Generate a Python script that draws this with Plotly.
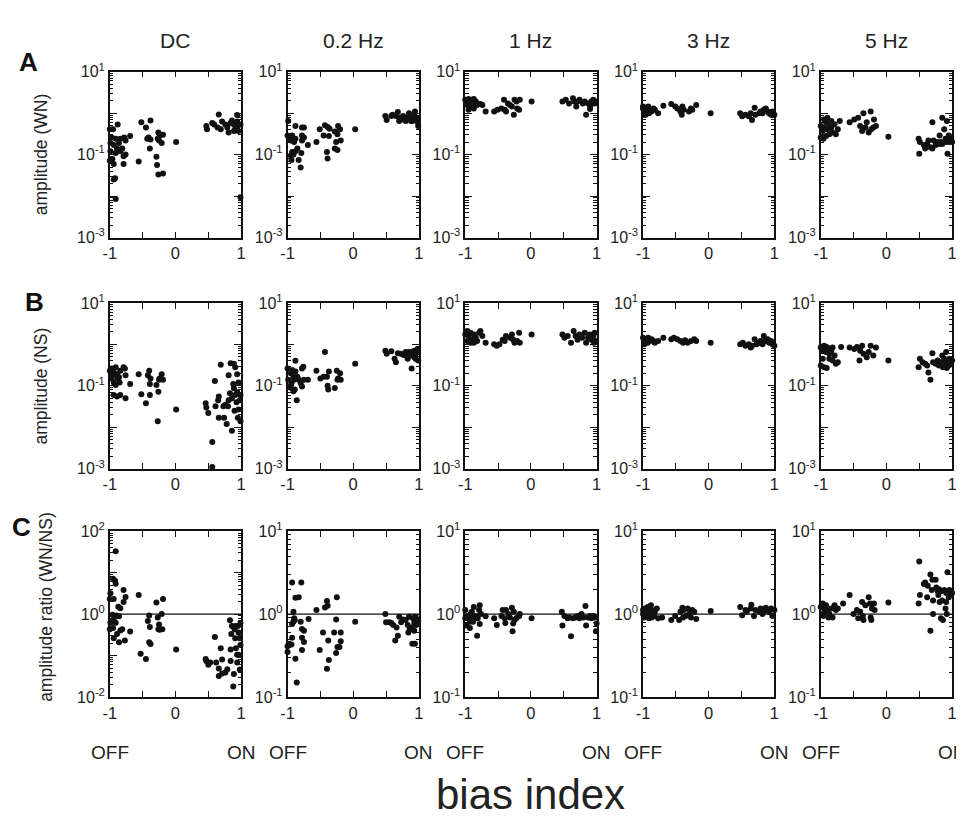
import plotly.graph_objects as go

# ---------------- data ----------------
column_titles = ["DC", "0.2 Hz", "1 Hz", "3 Hz", "5 Hz"]
row_letters = ["A", "B", "C"]
row_titles = ["amplitude (WN)", "amplitude (NS)", "amplitude ratio (WN/NS)"]
x_tick_vals = [-1, -0.5, 0, 0.5, 1]
x_tick_text = ["-1", "", "0", "", "1"]
end_labels = ["OFF", "ON"]
x_axis_title = "bias index"
ratio_reference = 1.0

# Row A: amplitude (WN)
a_dc_x = [-1.0, -0.95, -0.88, -0.97, -0.91, -0.84, -0.78, -0.69, -0.76, -0.94, -0.89, -0.86, -0.81, -0.99, -0.91, -0.84, -0.96, -1.0, -0.94, -0.79, -0.76, -0.79, -0.92, -0.94, -0.91, -0.99, -0.86,
          -0.52, -0.38, -0.45, -0.56, -0.41, -0.43, -0.38, -0.39, -0.26, -0.24, -0.27, -0.25, -0.19, -0.21, -0.29, -0.28, -0.26, -0.19,
          0.01,
          0.47, 0.48, 0.56, 0.59, 0.66, 0.64, 0.69, 0.71, 0.76, 0.79, 0.84, 0.86, 0.89, 0.94, 0.91, 0.96, 0.99, 0.81, 0.89, 0.94, 0.99, 0.94]
a_dc_y = [0.41, 0.41, 0.53, 0.26, 0.24, 0.24, 0.26, 0.28, 0.22, 0.17, 0.14, 0.13, 0.14, 0.12, 0.11, 0.12, 0.078, 0.071, 0.059, 0.091, 0.10, 0.059, 0.027, 0.025, 0.0085, 0.19, 0.19,
          0.60, 0.66, 0.45, 0.068, 0.26, 0.24, 0.23, 0.14, 0.34, 0.29, 0.24, 0.22, 0.30, 0.19, 0.089, 0.056, 0.033, 0.035,
          0.20,
          0.49, 0.41, 0.58, 0.53, 0.93, 0.45, 0.41, 0.63, 0.53, 0.45, 0.58, 0.66, 0.53, 0.90, 0.41, 0.37, 0.53, 0.34, 0.37, 0.63, 0.0093, 0.45]

a_02_x = [-0.99, -1.0, -0.98, -0.93, -0.88, -0.88, -0.95, -0.9, -0.78, -0.75, -0.78, -0.75, -0.78, -0.69, -0.93, -0.88, -0.95, -0.91, -0.94, -0.83, -0.79, -0.8, -0.85,
          -0.56, -0.51, -0.43, -0.39, -0.36, -0.45, -0.37, -0.40, -0.39, -0.28, -0.23, -0.20, -0.24, -0.26, -0.28, -0.24, -0.19,
          0.03,
          0.49, 0.51, 0.58, 0.60, 0.65, 0.68, 0.70, 0.73, 0.76, 0.80, 0.83, 0.85, 0.88, 0.90, 0.93, 0.94, 0.96, 0.98, 0.99, 0.93, 0.88, 0.70]
a_02_y = [0.65, 0.29, 0.26, 0.29, 0.49, 0.24, 0.22, 0.20, 0.45, 0.45, 0.29, 0.26, 0.22, 0.17, 0.115, 0.12, 0.095, 0.10, 0.074, 0.074, 0.11, 0.049, 0.14,
          0.20, 0.41, 0.51, 0.46, 0.42, 0.29, 0.28, 0.115, 0.081, 0.36, 0.49, 0.41, 0.31, 0.20, 0.14, 0.13, 0.22,
          0.41,
          0.85, 0.68, 0.85, 0.92, 0.85, 1.07, 0.77, 0.70, 0.85, 0.65, 0.77, 1.0, 0.77, 0.65, 0.92, 1.1, 0.77, 0.61, 0.49, 0.68, 0.65, 0.65]

a_1_x = [-1.0, -0.97, -0.95, -0.92, -0.9, -0.87, -0.84, -0.82, -0.77, -0.98, -0.93, -0.9, -0.95, -0.87, -0.82, -0.74, -0.69,
         -0.56, -0.51, -0.45, -0.41, -0.40, -0.38, -0.35, -0.32, -0.29, -0.26, -0.22, -0.21, -0.18, -0.17, -0.25,
         0.01,
         0.48, 0.53, 0.58, 0.64, 0.66, 0.69, 0.71, 0.74, 0.79, 0.82, 0.84, 0.87, 0.90, 0.92, 0.95, 0.97, 0.99, 0.90]
a_1_y = [2.1, 1.9, 2.2, 1.9, 2.1, 2.2, 1.9, 1.7, 1.65, 1.6, 1.45, 1.5, 1.2, 1.3, 1.58, 1.58, 1.1,
         1.1, 1.2, 1.3, 2.1, 1.2, 1.1, 1.7, 1.58, 1.45, 0.92, 1.9, 1.3, 1.2, 2.1, 2.1,
         1.9,
         1.9, 2.1, 1.7, 2.3, 1.9, 1.45, 1.9, 2.1, 1.7, 1.9, 0.92, 1.7, 1.45, 1.9, 2.1, 1.7, 1.9, 1.25]

a_3_x = [-1.0, -1.0, -0.98, -0.97, -0.95, -0.92, -0.91, -0.9, -0.87, -0.84, -0.82, -0.77, -0.96, -0.69,
         -0.57, -0.51, -0.48, -0.41, -0.40, -0.38, -0.30, -0.27, -0.25, -0.19, -0.43,
         0.03,
         0.48, 0.51, 0.56, 0.61, 0.64, 0.66, 0.70, 0.71, 0.77, 0.79, 0.84, 0.87, 0.90, 0.92, 0.95, 0.97, 1.0, 0.82]
a_3_y = [1.3, 1.45, 1.1, 1.2, 1.3, 1.45, 1.0, 1.2, 1.1, 1.3, 1.2, 1.0, 0.92, 1.5,
         1.65, 1.45, 1.3, 0.92, 1.45, 1.2, 1.1, 1.3, 1.2, 1.58, 1.1,
         1.0,
         1.0, 0.84, 0.92, 0.84, 1.0, 0.68, 1.35, 0.92, 1.0, 1.1, 1.2, 1.3, 1.1, 1.0, 0.92, 1.1, 0.92, 1.0]

a_5_x = [-1.0, -0.97, -0.95, -0.92, -0.9, -0.87, -0.84, -1.0, -0.96, -0.92, -0.87, -0.82, -0.77, -0.74, -0.9, -0.79, -0.71, -0.84, -0.95,
         -0.56, -0.49, -0.43, -0.35, -0.40, -0.37, -0.32, -0.27, -0.24, -0.23, -0.19, -0.16, -0.30, -0.20,
         0.03,
         0.49, 0.51, 0.50, 0.57, 0.59, 0.62, 0.64, 0.67, 0.70, 0.70, 0.72, 0.75, 0.78, 0.80, 0.81, 0.83, 0.85, 0.88, 0.90, 0.91, 0.92, 0.93, 0.95, 0.96, 0.98, 1.0, 0.85]
a_5_y = [0.49, 0.37, 0.70, 0.60, 0.77, 0.49, 0.65, 0.26, 0.24, 0.28, 0.31, 0.34, 0.31, 0.41, 0.41, 0.54, 0.65, 0.45, 0.45,
         0.60, 0.70, 0.77, 1.0, 0.49, 0.37, 0.45, 0.34, 1.1, 0.41, 0.70, 0.49, 0.60, 0.45,
         0.27,
         0.24, 0.20, 0.105, 0.17, 0.14, 0.18, 0.22, 0.15, 0.14, 0.60, 0.22, 0.17, 0.20, 0.18, 0.29, 0.20, 0.77, 0.41, 0.24, 0.20, 0.65, 0.105, 0.29, 0.20, 0.24, 0.20, 0.18]

# Row B: amplitude (NS)
b_dc_x = [-1.0, -0.97, -0.96, -0.94, -0.91, -0.89, -0.86, -0.84, -0.88, -0.94, -0.91, -0.79, -0.77, -0.76, -0.69, -0.94, -0.89, -0.84, -0.76, -0.97, -0.85,
          -0.56, -0.52, -0.45, -0.42, -0.40, -0.38, -0.39, -0.39, -0.29, -0.27, -0.26, -0.25, -0.21, -0.19, -0.24,
          0.01,
          0.46, 0.47, 0.50, 0.56, 0.56, 0.60, 0.61, 0.65, 0.66, 0.66, 0.69, 0.73, 0.74, 0.76, 0.78, 0.80, 0.81, 0.83, 0.84, 0.86, 0.86, 0.89, 0.89, 0.90, 0.91, 0.91, 0.93, 0.94, 0.94, 0.95, 0.96, 0.98, 0.99, 0.96, 0.99, 0.81, 0.88]
b_dc_y = [0.23, 0.26, 0.18, 0.21, 0.28, 0.19, 0.16, 0.23, 0.15, 0.12, 0.105, 0.28, 0.26, 0.18, 0.11, 0.06, 0.055, 0.06, 0.05, 0.15, 0.12,
          0.19, 0.063, 0.038, 0.18, 0.23, 0.15, 0.11, 0.06, 0.105, 0.014, 0.072, 0.14, 0.19, 0.14, 0.15,
          0.027,
          0.038, 0.030, 0.022, 0.0044, 0.0011, 0.13, 0.032, 0.045, 0.055, 0.017, 0.32, 0.032, 0.017, 0.035, 0.012, 0.032, 0.045, 0.066, 0.35, 0.0083, 0.05, 0.34, 0.087, 0.025, 0.28, 0.06, 0.04, 0.07, 0.19, 0.017, 0.027, 0.045, 0.014, 0.12, 0.06, 0.18, 0.11]

b_02_x = [-1.0, -0.99, -0.98, -0.95, -0.94, -0.93, -0.91, -0.9, -0.89, -0.88, -0.88, -0.86, -0.85, -0.83, -0.8, -0.78, -0.76, -0.78, -0.75, -0.69, -0.95, -0.91,
          -0.56, -0.5, -0.45, -0.43, -0.4, -0.39, -0.37, -0.38, -0.28, -0.25, -0.23, -0.2, -0.19, -0.24,
          0.03,
          0.49, 0.51, 0.58, 0.63, 0.65, 0.68, 0.73, 0.76, 0.8, 0.83, 0.85, 0.88, 0.89, 0.9, 0.93, 0.94, 0.95, 0.96, 0.98, 0.99, 0.93, 0.8]
b_02_y = [0.26, 0.14, 0.096, 0.20, 0.115, 0.24, 0.166, 0.14, 0.081, 0.40, 0.22, 0.045, 0.166, 0.14, 0.115, 0.26, 0.29, 0.096, 0.14, 0.14, 0.09, 0.074,
          0.23, 0.15, 0.166, 0.65, 0.166, 0.10, 0.22, 0.081, 0.088, 0.23, 0.15, 0.20, 0.14, 0.14,
          0.34,
          0.70, 0.59, 0.68, 0.45, 0.37, 0.61, 0.59, 0.56, 0.54, 0.45, 0.65, 0.54, 0.26, 0.65, 0.70, 0.54, 0.45, 0.61, 0.77, 0.41, 0.49, 0.65]

b_1_x = [-1.0, -0.97, -0.95, -0.92, -0.9, -0.87, -0.84, -0.82, -0.79, -0.77, -0.74, -0.97, -0.92, -0.87, -0.69,
         -0.56, -0.52, -0.48, -0.43, -0.40, -0.38, -0.32, -0.29, -0.27, -0.25, -0.21, -0.18, -0.17,
         0.01,
         0.48, 0.51, 0.56, 0.61, 0.65, 0.68, 0.71, 0.74, 0.78, 0.82, 0.84, 0.87, 0.90, 0.92, 0.95, 0.97, 0.99, 0.96]
b_1_y = [1.74, 2.1, 1.6, 1.9, 1.3, 1.74, 1.45, 1.2, 1.9, 2.1, 1.6, 1.2, 1.1, 1.1, 1.1,
         1.0, 0.92, 1.0, 1.3, 1.2, 1.6, 1.45, 1.74, 1.3, 1.1, 1.2, 1.9, 1.1,
         1.74,
         1.74, 1.45, 1.6, 1.1, 2.1, 1.6, 1.3, 1.74, 1.45, 1.9, 1.1, 1.45, 1.74, 1.3, 1.6, 1.9, 1.2, 1.1]

b_3_x = [-1.0, -0.97, -0.95, -0.92, -0.9, -0.87, -0.84, -0.82, -0.77, -0.69, -0.98, -0.93,
         -0.57, -0.53, -0.48, -0.43, -0.39, -0.36, -0.32, -0.27, -0.22, -0.19,
         0.03,
         0.48, 0.52, 0.56, 0.61, 0.64, 0.66, 0.70, 0.73, 0.77, 0.79, 0.84, 0.87, 0.90, 0.92, 0.95, 0.97, 1.0, 0.82]
b_3_y = [1.45, 1.2, 1.32, 1.45, 1.2, 1.32, 1.2, 1.1, 1.2, 1.45, 1.0, 1.1,
         1.32, 1.45, 1.32, 1.2, 1.1, 1.25, 1.1, 1.2, 1.32, 1.2,
         1.1,
         1.0, 1.1, 0.92, 1.0, 0.84, 0.92, 1.32, 1.0, 1.1, 1.2, 1.58, 1.2, 1.32, 1.1, 1.2, 1.0, 0.92, 1.0]

b_5_x = [-1.0, -0.97, -0.95, -0.92, -0.9, -0.87, -0.84, -1.0, -0.95, -0.91, -0.87, -0.82, -0.79, -0.77, -0.74, -0.97, -0.82, -0.69,
         -0.56, -0.49, -0.45, -0.40, -0.41, -0.37, -0.35, -0.30, -0.27, -0.24, -0.20, -0.16,
         0.03,
         0.49, 0.51, 0.55, 0.59, 0.62, 0.64, 0.67, 0.70, 0.71, 0.75, 0.78, 0.80, 0.83, 0.85, 0.86, 0.88, 0.90, 0.91, 0.93, 0.95, 0.96, 0.98, 1.0, 0.92]
b_5_y = [0.84, 0.70, 0.92, 0.65, 0.84, 0.59, 0.70, 0.31, 0.28, 0.27, 0.45, 0.41, 0.54, 0.34, 0.37, 0.45, 0.84, 0.86,
         0.84, 0.77, 0.86, 0.70, 0.41, 0.92, 0.59, 0.49, 0.65, 0.92, 0.54, 0.84,
         0.41,
         0.28, 0.45, 0.37, 0.34, 0.31, 0.21, 0.14, 0.61, 0.37, 0.34, 0.41, 0.31, 0.37, 0.54, 0.28, 0.45, 0.34, 0.65, 0.37, 0.31, 0.45, 0.34, 0.41, 0.27]

# Row C: amplitude ratio (WN/NS)
c_dc_x = [-0.91, -0.95, -0.92, -0.91, -0.99, -1.0, -0.94, -0.79, -0.76, -0.79, -0.87, -0.84, -0.96, -0.9, -0.86, -0.94, -0.97, -0.91, -0.95, -1.0, -0.81, -0.84, -0.89, -0.94, -0.86, -0.77, -0.69, -0.99,
          -0.56, -0.53, -0.45, -0.42, -0.40, -0.39, -0.38, -0.40, -0.29, -0.27, -0.26, -0.25, -0.21, -0.20, -0.19, -0.24,
          0.01,
          0.46, 0.47, 0.50, 0.53, 0.60, 0.62, 0.66, 0.66, 0.69, 0.71, 0.71, 0.76, 0.79, 0.83, 0.84, 0.84, 0.85, 0.86, 0.88, 0.89, 0.90, 0.91, 0.91, 0.92, 0.94, 0.94, 0.95, 0.96, 0.98, 0.98, 0.99, 0.99, 0.96]
c_dc_y = [33, 7.1, 6.4, 5.4, 3.2, 2.3, 2.3, 3.8, 2.6, 1.96, 1.5, 1.38, 0.97, 0.92, 0.89, 0.74, 0.68, 0.62, 0.46, 0.43, 0.43, 0.40, 0.33, 0.26, 0.21, 0.23, 0.38, 0.62,
          2.9, 0.11, 0.083, 0.68, 0.92, 0.49, 0.19, 0.21, 1.9, 0.83, 0.43, 0.56, 1.0, 0.43, 2.3, 0.42,
          0.14,
          0.083, 0.074, 0.06, 0.068, 0.28, 0.068, 0.049, 0.032, 0.15, 0.08, 0.037, 0.039, 0.047, 0.71, 0.074, 0.14, 0.33, 0.52, 0.018, 0.036, 0.43, 0.52, 0.26, 0.15, 0.104, 0.068, 0.52, 0.104, 0.046, 0.26, 0.61, 0.18, 0.36]

c_02_x = [-1.0, -1.0, -0.98, -0.94, -0.93, -0.93, -0.91, -0.9, -0.91, -0.89, -0.93, -0.88, -0.88, -0.86, -0.83, -0.79, -0.8, -0.78, -0.75, -0.78, -0.75, -0.78, -0.68,
          -0.56, -0.51, -0.46, -0.43, -0.40, -0.39, -0.38, -0.40, -0.37, -0.29, -0.26, -0.25, -0.26, -0.24, -0.21, -0.19, -0.19,
          0.03,
          0.49, 0.50, 0.55, 0.58, 0.61, 0.64, 0.68, 0.66, 0.70, 0.73, 0.76, 0.80, 0.83, 0.84, 0.85, 0.86, 0.89, 0.90, 0.91, 0.93, 0.94, 0.95, 0.96, 0.98, 0.99, 0.93]
c_02_y = [0.35, 0.41, 0.44, 0.43, 0.52, 2.4, 1.07, 0.89, 0.81, 0.85, 0.76, 1.58, 0.29, 0.15, 1.6, 2.4, 0.81, 0.66, 0.63, 0.52, 0.46, 0.37, 0.87,
          1.12, 0.37, 0.60, 1.2, 1.44, 1.26, 0.48, 0.22, 0.28, 0.6, 0.86, 1.6, 0.34, 0.40, 0.40, 0.6, 0.47,
          0.81,
          1.0, 0.80, 0.8, 0.78, 0.74, 0.48, 0.55, 0.69, 0.93, 0.8, 0.86, 0.85, 0.74, 0.6, 0.93, 0.65, 0.69, 0.44, 0.89, 0.78, 0.44, 0.93, 0.74, 0.85, 0.83, 0.63]

c_1_x = [-1.0, -1.0, -0.97, -0.98, -0.95, -0.93, -0.92, -0.91, -0.9, -0.88, -0.87, -0.87, -0.84, -0.82, -0.81, -0.79, -0.78, -0.78, -0.76, -0.69, -0.93,
         -0.56, -0.52, -0.45, -0.43, -0.40, -0.39, -0.38, -0.34, -0.32, -0.29, -0.28, -0.26, -0.25, -0.22, -0.18, -0.17, -0.27,
         0.01,
         0.47, 0.48, 0.51, 0.56, 0.58, 0.61, 0.64, 0.68, 0.71, 0.74, 0.77, 0.80, 0.83, 0.84, 0.87, 0.90, 0.92, 0.95, 0.97, 0.99, 1.0]
c_1_y = [1.12, 0.89, 0.95, 0.73, 0.91, 0.68, 1.0, 0.85, 1.07, 0.81, 1.22, 0.91, 0.95, 0.55, 0.89, 1.12, 1.28, 0.76, 1.0, 0.94, 0.81,
         0.89, 0.74, 0.95, 1.12, 0.89, 0.78, 1.12, 1.0, 0.91, 1.19, 0.62, 1.07, 0.85, 0.9, 0.95, 1.0, 0.77,
         0.89,
         1.07, 0.73, 0.95, 0.89, 0.91, 0.54, 0.89, 0.91, 0.95, 0.89, 1.0, 0.91, 1.25, 0.73, 0.91, 0.95, 0.89, 0.95, 0.91, 0.62, 0.77]

c_3_x = [-1.0, -1.0, -0.98, -0.97, -0.95, -0.93, -0.92, -0.9, -0.88, -0.87, -0.86, -0.83, -0.79, -0.77, -0.71, -0.82, -0.91,
         -0.57, -0.51, -0.45, -0.43, -0.40, -0.39, -0.38, -0.35, -0.30, -0.27, -0.25, -0.22, -0.19, -0.32,
         0.03,
         0.48, 0.51, 0.56, 0.58, 0.64, 0.65, 0.69, 0.71, 0.77, 0.79, 0.82, 0.87, 0.90, 0.92, 0.95, 0.97, 1.0, 0.84]
c_3_y = [1.0, 1.12, 0.91, 1.17, 1.0, 1.22, 0.95, 1.07, 1.28, 0.91, 1.12, 0.95, 1.17, 0.89, 0.91, 1.07, 0.89,
         0.85, 0.95, 0.85, 1.07, 1.19, 0.91, 1.12, 0.95, 1.0, 0.91, 1.12, 1.07, 0.87, 1.17,
         1.09,
         1.22, 0.97, 1.12, 1.07, 1.17, 1.3, 0.95, 1.12, 1.07, 1.17, 1.0, 1.19, 1.12, 1.07, 1.17, 0.95, 1.12, 1.07]

c_5_x = [-1.0, -0.97, -0.95, -0.92, -0.93, -0.9, -0.87, -0.84, -0.82, -0.79, -0.77, -0.74, -0.96, -0.88, -0.66, -0.98,
         -0.56, -0.5, -0.45, -0.43, -0.40, -0.37, -0.36, -0.35, -0.32, -0.27, -0.25, -0.24, -0.22, -0.19, -0.18, -0.23,
         0.03,
         0.49, 0.51, 0.57, 0.59, 0.62, 0.63, 0.67, 0.69, 0.70, 0.71, 0.71, 0.75, 0.67, 0.76, 0.78, 0.79, 0.80, 0.81, 0.83, 0.84, 0.85, 0.86, 0.88, 0.90, 0.91, 0.92, 0.93, 0.95, 0.96, 0.98, 1.0, 0.91, 0.50]
c_5_y = [1.22, 1.34, 1.17, 1.28, 1.07, 1.12, 1.0, 1.17, 0.91, 1.28, 1.12, 1.17, 0.95, 0.91, 1.34, 1.0,
         1.7, 1.0, 1.12, 0.89, 1.07, 1.4, 0.95, 0.85, 1.28, 1.6, 1.34, 0.91, 1.17, 1.34, 1.12, 0.85,
         1.38,
         1.34, 1.7, 2.3, 2.4, 1.6, 2.2, 3.0, 1.95, 2.6, 1.46, 1.0, 2.6, 0.63, 2.1, 1.9, 1.7, 2.0, 1.4, 0.89, 1.9, 1.46, 0.85, 1.95, 1.17, 1.8, 1.0, 3.2, 1.6, 1.95, 1.7, 1.8, 1.4, 4.3]

panels = [
    [(a_dc_x, a_dc_y), (a_02_x, a_02_y), (a_1_x, a_1_y), (a_3_x, a_3_y), (a_5_x, a_5_y)],
    [(b_dc_x, b_dc_y), (b_02_x, b_02_y), (b_1_x, b_1_y), (b_3_x, b_3_y), (b_5_x, b_5_y)],
    [(c_dc_x, c_dc_y), (c_02_x, c_02_y), (c_1_x, c_1_y), (c_3_x, c_3_y), (c_5_x, c_5_y)],
]

# ---------------- layout geometry (screen pixels) ----------------
PAGE_MARGIN_X = 8          # horizontal offset of the figure inside the page
VIEW_W, VIEW_H = 964, 819
FIG_W, FIG_H = VIEW_W - PAGE_MARGIN_X, VIEW_H
COL_LEFT = [104, 284, 464, 644, 824]
PLOT_W = 133
ROW_TOP = [54, 291, 525]
PLOT_H = 170

FONT = "Liberation Sans, Arial, Helvetica, sans-serif"
INK = "#111111"
TXT = "#222222"


def px_x(p):
    return (p - PAGE_MARGIN_X) / FIG_W


def px_y(p):
    return 1 - p / FIG_H


def y_spec(r, c):
    if r < 2:
        lo, hi, labeled = -3, 1, {-3, -1, 1}
    elif c == 0:
        lo, hi, labeled = -2, 2, {-2, 0, 2}
    else:
        lo, hi, labeled = -1, 1, {-1, 0, 1}
    vals = [10.0 ** d for d in range(lo, hi + 1)]
    text = [f"10<sup>{d}</sup>" if d in labeled else "" for d in range(lo, hi + 1)]
    minor = [m * 10.0 ** d for d in range(lo, hi) for m in range(2, 10)]
    return lo, hi, vals, text, minor


fig = go.Figure()
layout = dict(
    width=FIG_W, height=FIG_H,
    margin=dict(l=0, r=0, t=0, b=0),
    paper_bgcolor="white", plot_bgcolor="white",
    showlegend=False,
    font=dict(family=FONT, color=TXT),
)

annotations = []
for r in range(3):
    for c in range(5):
        idx = r * 5 + c + 1
        xa = "x" if idx == 1 else f"x{idx}"
        ya = "y" if idx == 1 else f"y{idx}"
        xkey = "xaxis" if idx == 1 else f"xaxis{idx}"
        ykey = "yaxis" if idx == 1 else f"yaxis{idx}"
        lo, hi, yvals, ytext, yminor = y_spec(r, c)
        x0 = COL_LEFT[c]
        y0 = ROW_TOP[r]
        layout[xkey] = dict(
            domain=[px_x(x0), px_x(x0 + PLOT_W)], anchor=ya,
            range=[-1, 1], tickmode="array", tickvals=x_tick_vals, ticktext=x_tick_text,
            ticks="inside", ticklen=6, tickwidth=1.2, tickcolor=INK,
            showline=True, linecolor=INK, linewidth=1.5, mirror="ticks",
            showgrid=False, zeroline=False, tickfont=dict(size=16.5, color=TXT),
            fixedrange=True,
        )
        layout[ykey] = dict(
            domain=[px_y(y0 + PLOT_H), px_y(y0)], anchor=xa,
            type="log", range=[lo, hi], tickmode="array", tickvals=yvals, ticktext=ytext,
            ticks="inside", ticklen=7, tickwidth=1.2, tickcolor=INK,
            minor=dict(tickmode="array", tickvals=yminor, ticks="inside", ticklen=3.5,
                       tickwidth=1, tickcolor=INK),
            showline=True, linecolor=INK, linewidth=1.5, mirror="ticks",
            showgrid=False, zeroline=False, tickfont=dict(size=16, color=TXT),
            fixedrange=True,
        )
        if r == 2:
            fig.add_trace(go.Scatter(
                x=[-1, 1], y=[ratio_reference, ratio_reference], mode="lines",
                line=dict(color=INK, width=1.3), xaxis=xa, yaxis=ya, hoverinfo="skip",
            ))
        px_, py_ = panels[r][c]
        fig.add_trace(go.Scatter(
            x=px_, y=py_, mode="markers", xaxis=xa, yaxis=ya, cliponaxis=False,
            marker=dict(size=6, color=INK, line=dict(width=0)),
        ))
        if r == 2:
            for xv, lab in zip([-1, 1], end_labels):
                annotations.append(dict(text=lab, xref=xa, yref="paper", x=xv, y=px_y(752),
                                        showarrow=False, font=dict(size=19, color=TXT),
                                        xanchor="center", yanchor="middle"))

# column titles
for c, t in enumerate(column_titles):
    annotations.append(dict(text=t, xref="paper", yref="paper",
                            x=px_x(COL_LEFT[c] + PLOT_W / 2), y=px_y(22),
                            showarrow=False, font=dict(size=21, color=TXT),
                            xanchor="center", yanchor="middle"))

# row letters
letter_pos = [(22, 44), (28, 290), (15, 521)]
for (lx, ly), t in zip(letter_pos, row_letters):
    annotations.append(dict(text=f"<b>{t}</b>", xref="paper", yref="paper",
                            x=px_x(lx), y=px_y(ly), showarrow=False,
                            font=dict(size=26, color=INK),
                            xanchor="center", yanchor="middle"))

# row titles
title_pos = [(34, 139), (34, 376), (40, 603)]
for (tx, ty), t in zip(title_pos, row_titles):
    annotations.append(dict(text=t, xref="paper", yref="paper", x=px_x(tx), y=px_y(ty),
                            textangle=-90, showarrow=False, font=dict(size=17.5, color=TXT),
                            xanchor="center", yanchor="middle"))

# shared x title
annotations.append(dict(text=x_axis_title, xref="paper", yref="paper",
                        x=px_x((COL_LEFT[0] + COL_LEFT[-1] + PLOT_W) / 2), y=px_y(795),
                        showarrow=False, font=dict(size=42, color=TXT),
                        xanchor="center", yanchor="middle"))

layout["annotations"] = annotations
fig.update_layout(**layout)
fig.write_html("out.html")
